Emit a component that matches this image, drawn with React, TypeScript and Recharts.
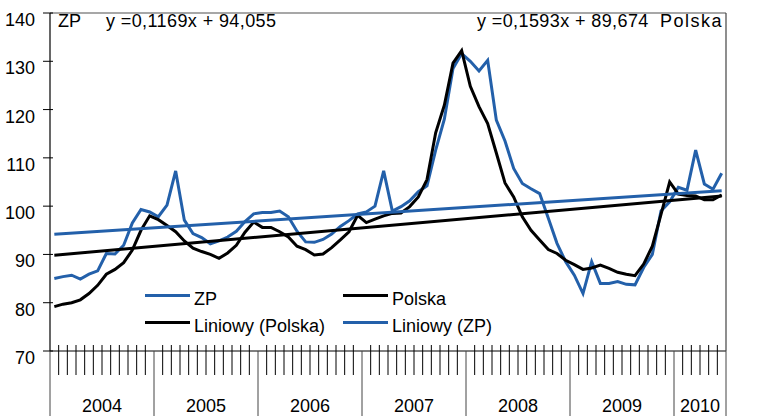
import React from 'react';
import { LineChart, Line, XAxis, YAxis, Legend, Customized, ReferenceLine } from 'recharts';

const FONT = '"Liberation Sans", Arial, sans-serif';
const BLUE = '#2360aa';

const years = ['2004', '2005', '2006', '2007', '2008', '2009', '2010'];
const monthsPerYear = [12, 12, 12, 12, 12, 12, 6];

const zpValues = [
  85.0, 85.4, 85.7, 84.9, 85.9, 86.6, 90.2, 90.1, 91.9, 96.5, 99.3, 98.8,
  97.8, 100.2, 107.3, 97.1, 94.3, 93.5, 92.2, 92.8, 93.6, 94.8, 96.8, 98.4,
  98.7, 98.7, 99.0, 97.8, 94.8, 92.6, 92.5, 93.1, 94.2, 95.8, 97.0, 98.4,
  98.8, 100.0, 107.3, 99.0, 99.9, 101.1, 103.0, 104.2, 111.6, 118.0, 128.5, 131.6,
  130.0, 128.0, 130.2, 117.8, 113.5, 107.8, 104.7, 103.6, 102.6, 97.5, 92.3, 88.5,
  85.7, 81.9, 88.5, 84.0, 84.0, 84.4, 83.8, 83.7, 87.3, 90.0, 99.0, 100.9,
  103.9, 103.3, 111.6, 104.6, 103.5, 106.8,
];

const polskaValues = [
  79.2, 79.7, 80.0, 80.6, 81.9, 83.6, 85.9, 86.9, 88.3, 90.9, 95.0, 98.0,
  97.2, 96.0, 94.7, 92.8, 91.3, 90.6, 90.0, 89.2, 90.3, 91.9, 94.6, 96.7,
  95.6, 95.6, 94.7, 93.6, 91.7, 91.0, 89.9, 90.1, 91.4, 93.0, 94.7, 98.1,
  96.6, 97.3, 98.0, 98.5, 98.6, 99.9, 101.9, 105.5, 115.2, 120.9, 129.6, 132.2,
  124.8, 120.6, 117.1, 111.0, 104.8, 101.9, 97.8, 95.0, 93.0, 91.0, 90.2, 88.8,
  87.9, 86.9, 87.2, 87.8, 87.1, 86.3, 85.9, 85.6, 88.0, 91.7, 98.3, 105.0,
  102.5, 102.2, 102.1, 101.3, 101.3, 102.3,
];

// Linear trend endpoints (first and last month)
const trendZP = [94.17, 103.17];
const trendPolska = [89.83, 102.1];

const yTicks = [70, 80, 90, 100, 110, 120, 130, 140];

const equationZP = 'y =0,1169x + 94,055';
const equationPolska = 'y =0,1593x + 89,674';

const N = zpValues.length;
const data = zpValues.map((v, i) => ({ i, zp: v, polska: polskaValues[i] }));
const trendZPData = [{ i: 0, v: trendZP[0] }, { i: N - 1, v: trendZP[1] }];
const trendPolskaData = [{ i: 0, v: trendPolska[0] }, { i: N - 1, v: trendPolska[1] }];

const boundaries: number[] = [];
for (let k = 0; k <= N; k++) boundaries.push(k - 0.5);
const yearStarts: number[] = [];
const yearCenters: number[] = [];
{
  let s = 0;
  monthsPerYear.forEach((m) => {
    yearStarts.push(s - 0.5);
    yearCenters.push(s + m / 2 - 0.5);
    s += m;
  });
  yearStarts.push(s - 0.5);
}

const XTick = (props: any) => {
  const { x, y, payload } = props;
  const v = payload.value;
  const isYear = yearStarts.some((s) => Math.abs(s - v) < 1e-6);
  const yc = yearCenters.findIndex((c) => Math.abs(c - v) < 1e-6);
  return (
    <g>
      {isYear ? (
        <line x1={x} x2={x} y1={y} y2={y + 70} stroke="#444" strokeWidth={1} />
      ) : (
        <line x1={x} x2={x} y1={y - 6} y2={y + 24} stroke="#000" strokeWidth={1} />
      )}
      {yc >= 0 && (
        <text x={x} y={y + 61} textAnchor="middle" fontSize={18} fontFamily={FONT} fill="#000">
          {years[yc]}
        </text>
      )}
    </g>
  );
};

const YTickLeft = (props: any) => {
  const { x, y, payload } = props;
  return (
    <g>
      <line x1={x - 7} x2={x + 3} y1={y} y2={y} stroke="#000" strokeWidth={1} />
      <text x={x - 15} y={y + 13} textAnchor="end" fontSize={18} fontFamily={FONT} fill="#000">
        {payload.value}
      </text>
    </g>
  );
};

const YTickRight = (props: any) => {
  const { x, y, payload } = props;
  return (
    <g>
      <line x1={x - 6} x2={x + 6} y1={y} y2={y} stroke="#444" strokeWidth={1} />
      <text x={x + 16} y={y + 13} textAnchor="start" fontSize={18} fontFamily={FONT} fill="#000">
        {payload.value}
      </text>
    </g>
  );
};

const legendOrder = ['ZP', 'Polska', 'Liniowy (Polska)', 'Liniowy (ZP)'];
const legendSlots = [
  [145, 295],
  [343, 295],
  [145, 322],
  [343, 322],
];

const LegendContent = (props: any) => {
  const payload = props.payload || [];
  return (
    <div style={{ position: 'relative', width: 776, height: 416 }}>
      {legendOrder.map((name, k) => {
        const item = payload.find((p: any) => p.value === name);
        const color = item ? item.color : '#000';
        const [lx, ly] = legendSlots[k];
        return (
          <React.Fragment key={name}>
            <div style={{ position: 'absolute', left: lx, top: ly - 1.5, width: 45, height: 3, background: color }} />
            <div
              style={{
                position: 'absolute',
                left: lx + 49,
                top: ly - 7.5,
                fontSize: 18,
                lineHeight: '22px',
                fontFamily: FONT,
                color: '#000',
                whiteSpace: 'nowrap',
              }}
            >
              {name}
            </div>
          </React.Fragment>
        );
      })}
    </div>
  );
};

const TopLabels = () => (
  <g fontFamily={FONT} fontSize={18} fill="#000">
    <rect x={53} y={4} width={35} height={26} fill="#fff" />
    <text x={58} y={27}>ZP</text>
    <rect x={100} y={4} width={177} height={26} fill="#fff" />
    <text x={106} y={27} letterSpacing={0.4}>{equationZP}</text>
    <rect x={473} y={4} width={174} height={26} fill="#fff" />
    <text x={477} y={27} letterSpacing={0.4}>{equationPolska}</text>
    <rect x={657} y={4} width={67} height={26} fill="#fff" />
    <text x={660} y={27} letterSpacing={1.5}>Polska</text>
  </g>
);

export default function App() {
  return (
    <div style={{ position: 'absolute', left: 0, top: 0, background: '#fff' }}>
      <LineChart width={776} height={416} data={data} margin={{ top: 13, right: 0, bottom: 0, left: 0 }}>
        <XAxis
          dataKey="i"
          type="number"
          domain={[-0.5, N - 0.5]}
          ticks={boundaries}
          interval={0}
          height={65}
          tickLine={false}
          tickSize={0}
          tickMargin={0}
          axisLine={{ stroke: '#000', strokeWidth: 1.2 }}
          tick={<XTick />}
        />
        <YAxis
          yAxisId="left"
          orientation="left"
          domain={[70, 140]}
          ticks={yTicks}
          interval={0}
          width={50}
          tickLine={false}
          tickSize={0}
          tickMargin={0}
          axisLine={{ stroke: '#000', strokeWidth: 1.2 }}
          tick={<YTickLeft />}
        />
        <YAxis
          yAxisId="right"
          orientation="right"
          domain={[70, 140]}
          ticks={yTicks}
          interval={0}
          width={50}
          tickLine={false}
          tickSize={0}
          tickMargin={0}
          axisLine={{ stroke: '#444', strokeWidth: 1.2 }}
          tick={<YTickRight />}
        />
        <ReferenceLine yAxisId="left" y={140} stroke="#8a8a8a" strokeWidth={1.5} />
        <Line yAxisId="left" dataKey="zp" name="ZP" stroke={BLUE} strokeWidth={3} dot={false} isAnimationActive={false} />
        <Line yAxisId="left" dataKey="polska" name="Polska" stroke="#000" strokeWidth={3} dot={false} isAnimationActive={false} />
        <Line yAxisId="left" data={trendPolskaData} dataKey="v" name="Liniowy (Polska)" stroke="#000" strokeWidth={3} dot={false} isAnimationActive={false} />
        <Line yAxisId="left" data={trendZPData} dataKey="v" name="Liniowy (ZP)" stroke={BLUE} strokeWidth={3} dot={false} isAnimationActive={false} />
        <Legend
          layout="horizontal"
          verticalAlign="middle"
          align="center"
          content={<LegendContent />}
          wrapperStyle={{ position: 'absolute', left: 0, top: 0, width: 776, height: 416, pointerEvents: 'none' }}
        />
        <Customized component={TopLabels} />
      </LineChart>
    </div>
  );
}
